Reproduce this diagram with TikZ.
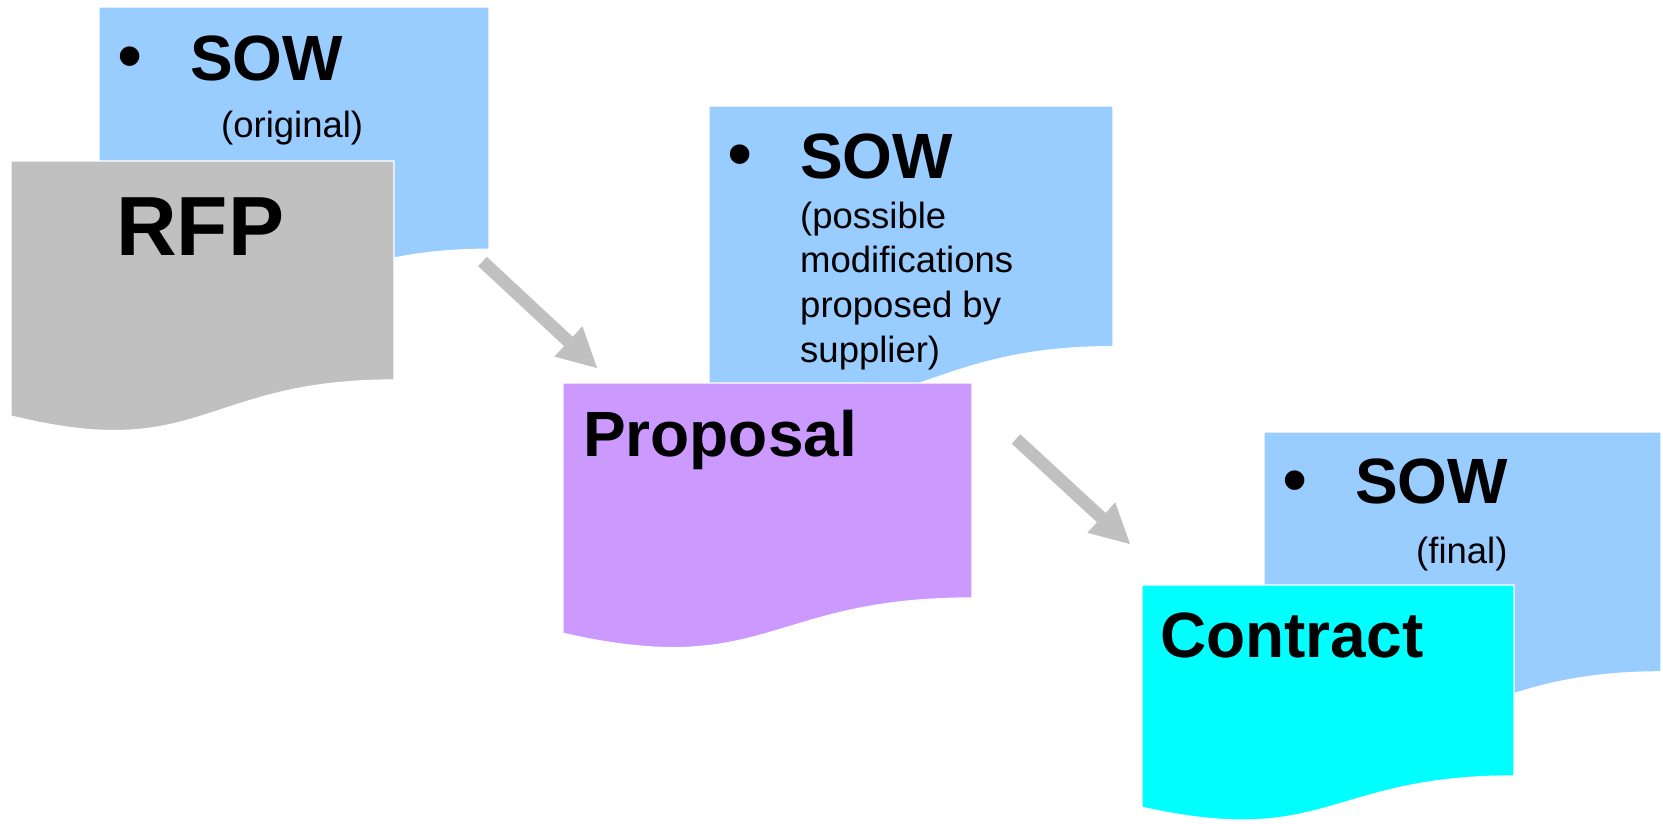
\documentclass[tikz,border=0pt]{standalone}
\usepackage{fontspec}
\setmainfont{Liberation Sans}
\usetikzlibrary{arrows.meta}
\definecolor{sowblue}{HTML}{99CCFF}
\definecolor{rfpgrey}{HTML}{C0C0C0}
\definecolor{proppurple}{HTML}{CC99FF}
\definecolor{contcyan}{HTML}{00FFFF}
\definecolor{arrowgrey}{HTML}{C0C0C0}
% fill colour, X (left), Y (top), width, height
\newcommand{\mydocshape}[5]{%
  \path[fill=#1, draw=white, line width=1.2pt]
    (#2,#3) -- ({#2+#4},#3) -- ({#2+#4},{#3+0.802*#5})
    .. controls ({#2+0.5*#4},{#3+0.802*#5}) and ({#2+0.5*#4},{#3+1.1075*#5}) ..
    (#2,{#3+0.934*#5}) -- cycle;}
\tikzset{
  bigt/.style={anchor=base west, inner sep=0pt, font=\fontsize{64}{77}\selectfont\bfseries},
  rfpt/.style={anchor=base west, inner sep=0pt, font=\fontsize{84}{100}\selectfont\bfseries},
  smallt/.style={anchor=base west, inner sep=0pt, font=\fontsize{36.5}{44}\selectfont},
  bul/.style={anchor=center, inner sep=0pt, font=\fontsize{72}{86}\selectfont},
  flow/.style={draw=arrowgrey, line width=12.7pt,
    -{Triangle[width=41pt,length=39pt,line width=0.5pt]}}
}
\begin{document}
\begin{tikzpicture}[x=1pt,y=-1pt]
\useasboundingbox (0,0) rectangle (1663,823);
\fill[white] (0,0) rectangle (1663,823);

% ---- RFP stage
\mydocshape{sowblue}{99}{7}{390}{302}
\node[bul] (bulone) at (130,64) {•};
\node[bigt] (sowone) at (190,80) {SOW};
\node[smallt] (origone) at (221,137) {(original)};
\mydocshape{rfpgrey}{11}{161}{383}{273}
\node[rfpt] (rfp) at (116,255) {RFP};

\coordinate (aonestart) at (482.5,261.5);
\coordinate (aoneend) at (597,368);
\draw[flow] (aonestart) -- (aoneend);

% ---- Proposal stage
\mydocshape{sowblue}{709}{106}{404}{300}
\node[bul] (bultwo) at (740,162) {•};
\node[bigt] (sowtwo) at (800,178) {SOW};
\node[smallt] (sowtwoa) at (800,228) {(possible};
\node[smallt] (sowtwob) at (800,272) {modifications};
\node[smallt] (sowtwoc) at (800,317) {proposed by};
\node[smallt] (sowtwod) at (800,362) {supplier)};
\mydocshape{proppurple}{563}{383}{409}{268}
\node[bigt] (proposal) at (583,456) {Proposal};

\coordinate (atwostart) at (1016,439);
\coordinate (atwoend) at (1130,544);
\draw[flow] (atwostart) -- (atwoend);

% ---- Contract stage
\mydocshape{sowblue}{1264}{432}{397}{299}
\node[bul] (bulthree) at (1295,488) {•};
\node[bigt] (sowthree) at (1355,503) {SOW};
\node[smallt] (finalthree) at (1416,563) {(final)};
\mydocshape{contcyan}{1142}{585}{372}{238}
\node[bigt] (contract) at (1160,657) {Contract};
\end{tikzpicture}
\end{document}
